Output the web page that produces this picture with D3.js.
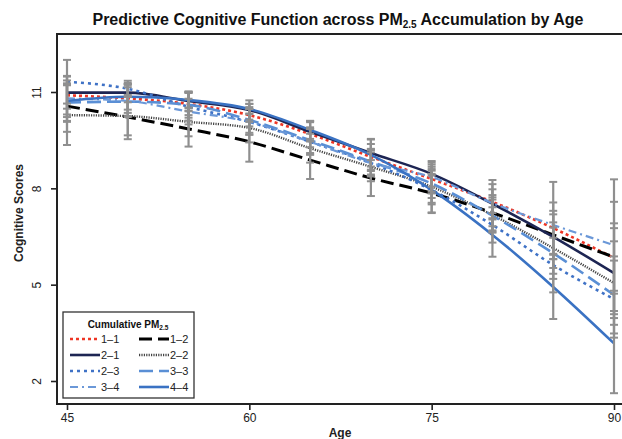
<!DOCTYPE html>
<html><head><meta charset="utf-8">
<script src="https://cdn.jsdelivr.net/npm/d3@7"></script>
<style>body{margin:0;background:#fff}svg{display:block;font-family:"Liberation Sans",Arial,sans-serif}</style>
</head><body><svg id="c" width="622" height="439"></svg>
<script>
const ages = [45,50,55,60,65,70,75,80,85,90];
const groups = ["1–1","1–2","2–1","2–2","2–3","3–3","3–4","4–4"];
const s11 = [10.90,10.80,10.63,10.28,9.69,8.98,8.29,7.58,6.76,5.83];
const s12 = [10.56,10.22,9.85,9.45,8.88,8.32,7.85,7.24,6.55,5.86];
const s21 = [10.98,10.98,10.72,10.44,9.76,9.10,8.45,7.52,6.49,5.36];
const s22 = [10.28,10.25,10.07,9.88,9.25,8.67,8.05,7.17,6.14,5.05];
const s23 = [11.32,11.10,10.54,10.07,9.45,8.79,7.95,6.86,5.61,4.55];
const s33 = [10.67,10.70,10.60,10.13,9.50,8.83,8.15,7.15,5.98,4.68];
const s34 = [10.80,10.72,10.39,10.07,9.45,8.79,8.35,7.54,6.86,6.23];
const s44 = [10.72,10.85,10.75,10.47,9.82,9.04,7.95,6.55,4.93,3.17];
// error bar half-widths per group
const e11 = [0.60,0.45,0.35,0.35,0.41,0.40,0.45,0.55,0.80,1.75];
const e12 = [0.80,0.69,0.55,0.62,0.59,0.56,0.60,0.55,0.75,1.05];
const e21 = [0.50,0.30,0.30,0.30,0.30,0.42,0.40,0.45,0.70,1.40];
const e22 = [0.93,0.60,0.45,0.45,0.45,0.45,0.50,0.55,0.80,1.30];
const e23 = [0.68,0.25,0.43,0.40,0.40,0.40,0.45,0.55,0.85,1.20];
const e33 = [0.60,0.45,0.40,0.40,0.40,0.40,0.45,0.50,0.80,1.20];
const e34 = [0.70,0.50,0.40,0.40,0.40,0.42,0.45,0.72,1.34,2.05];
const e44 = [0.50,0.40,0.25,0.16,0.28,0.50,0.72,0.68,1.00,1.55];
const xTicks = [45,60,75,90];
const yTicks = [2,5,8,11];

const values = [s11,s12,s21,s22,s23,s33,s34,s44];
const errs = [e11,e12,e21,e22,e23,e33,e34,e44];
const styles = [
  {c:"#ee3524", w:2.6, d:"3,3"},
  {c:"#000000", w:3,   d:"13,6"},
  {c:"#1d2553", w:2.6, d:null},
  {c:"#444444", w:2.4, d:"1.2,1.2"},
  {c:"#3f72c6", w:2.6, d:"3,4"},
  {c:"#5a8fd5", w:2.6, d:"14,6"},
  {c:"#6b98d8", w:2.2, d:"8,4,2,4"},
  {c:"#3a72c3", w:2.6, d:null}
];

const svg = d3.select("#c");
const x = d3.scaleLinear().domain([45,90]).range([67,614]);
const y = d3.scaleLinear().domain([2,11]).range([381,92]);
const L=57, T=34, B=404, R=623;

// lines
const line = d3.line().x((d,i)=>x(ages[i])).y(d=>y(d)).curve(d3.curveMonotoneX);
values.forEach((v,k)=>{
  svg.append("path").attr("d",line(v)).attr("fill","none")
    .attr("stroke",styles[k].c).attr("stroke-width",styles[k].w)
    .attr("stroke-dasharray",styles[k].d);
});

// error bars
const eg = svg.append("g").attr("stroke","#8f8f8f");
values.forEach((v,k)=>{
  v.forEach((m,i)=>{
    const cx = x(ages[i]), lo = y(m-errs[k][i]), hi = y(m+errs[k][i]);
    eg.append("line").attr("x1",cx).attr("x2",cx).attr("y1",lo).attr("y2",hi).attr("stroke-width",2.2);
    eg.append("line").attr("x1",cx-4).attr("x2",cx+4).attr("y1",lo).attr("y2",lo).attr("stroke-width",2);
    eg.append("line").attr("x1",cx-4).attr("x2",cx+4).attr("y1",hi).attr("y2",hi).attr("stroke-width",2);
  });
});

// box
svg.append("rect").attr("x",L).attr("y",T).attr("width",R-L).attr("height",B-T)
  .attr("fill","none").attr("stroke","#222").attr("stroke-width",2);

// axes
const xa = svg.append("g").attr("transform",`translate(0,${B})`)
  .call(d3.axisBottom(x).tickValues(xTicks).tickSize(6).tickSizeOuter(0).tickPadding(3));
xa.select(".domain").remove();
xa.selectAll("line").attr("stroke","#222").attr("stroke-width",1.6);
xa.selectAll("text").attr("font-size",12).attr("fill","#222").attr("font-family","Liberation Sans, Arial, sans-serif");
const ya = svg.append("g").attr("transform",`translate(${L},0)`)
  .call(d3.axisLeft(y).tickValues(yTicks).tickSize(6).tickSizeOuter(0));
ya.select(".domain").remove();
ya.selectAll("line").attr("stroke","#222").attr("stroke-width",1.6);
ya.selectAll("text").attr("font-size",12).attr("fill","#222").attr("font-family","Liberation Sans, Arial, sans-serif")
  .attr("text-anchor","middle").attr("x",0).attr("dy",0)
  .attr("transform","translate(-16,0) rotate(-90)");

svg.append("text").attr("x",340).attr("y",437).attr("text-anchor","middle")
  .attr("font-weight","bold").attr("font-size",12).attr("fill","#222").text("Age");
svg.append("text").attr("transform","translate(23,213) rotate(-90)").attr("text-anchor","middle")
  .attr("font-weight","bold").attr("font-size",12).attr("fill","#222").text("Cognitive Scores");

// title
const t = svg.append("text").attr("x",338).attr("y",25).attr("text-anchor","middle")
  .attr("font-weight","bold").attr("font-size",16).attr("fill","#111");
t.append("tspan").text("Predictive Cognitive Function across PM");
t.append("tspan").attr("font-size",10).attr("dy",3).text("2.5");
t.append("tspan").attr("dy",-3).text(" Accumulation by Age");

// legend
const lg = svg.append("g");
lg.append("rect").attr("x",63).attr("y",312).attr("width",131).attr("height",86)
  .attr("fill","#fff").attr("stroke","#333").attr("stroke-width",1.3);
const lt = lg.append("text").attr("x",128).attr("y",328).attr("text-anchor","middle")
  .attr("font-weight","bold").attr("font-size",10).attr("fill","#111");
lt.append("tspan").text("Cumulative PM");
lt.append("tspan").attr("font-size",6.5).attr("dy",2).text("2.5");
groups.forEach((g,k)=>{
  const col = k%2, row = Math.floor(k/2);
  const x0 = col ? 139 : 70, yy = 339 + row*16;
  lg.append("line").attr("x1",x0).attr("x2",x0+30).attr("y1",yy).attr("y2",yy)
    .attr("stroke",styles[k].c).attr("stroke-width",styles[k].w).attr("stroke-dasharray",styles[k].d);
  lg.append("text").attr("x",x0+31).attr("y",yy+4).attr("font-size",11).attr("fill","#222").text(g);
});
</script></body></html>
